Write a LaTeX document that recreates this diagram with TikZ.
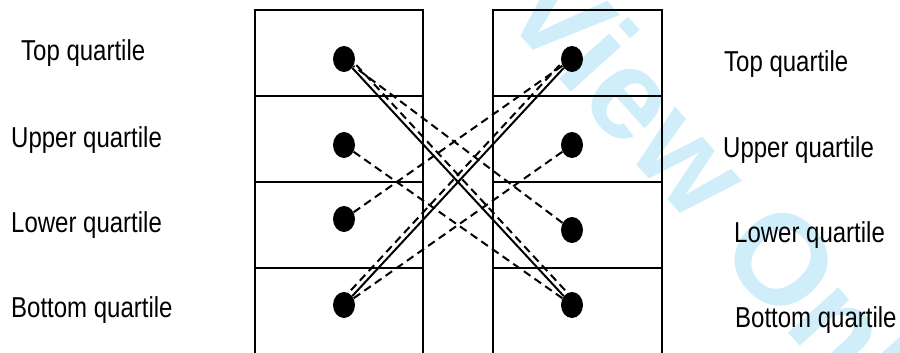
\documentclass[tikz,border=0pt]{standalone}
\usepackage{fontspec}
\setmainfont{Liberation Sans}
\usetikzlibrary{shapes.geometric,calc}
\definecolor{wm}{RGB}{208,237,250}
\begin{document}
\begin{tikzpicture}[x=1pt,y=-1pt,
  frame/.style={line width=1.4pt},
  dot/.style={ellipse,fill=black,draw=none,minimum width=22pt,minimum height=26pt,inner sep=0pt},
  conn/.style={line width=2pt},
  dconn/.style={line width=2pt,dash pattern=on 8pt off 5pt},
  lbl/.style={anchor=base west,inner sep=0pt,font=\fontsize{24}{28}\selectfont}]
\useasboundingbox (0,0) rectangle (900,353);
% watermark
\node[rotate=-48,anchor=base west,inner sep=0pt,text=wm,font=\fontsize{128}{132}\selectfont\bfseries] (wmk) at (498,11) {View Online};
% frames
\draw[frame] (255,354) -- (255,10) -- (423,10) -- (423,354);
\draw[frame] (493,354) -- (493,10) -- (662,10) -- (662,354);
\foreach \yy in {96,182,268}{
  \draw[frame] (255,\yy) -- (423,\yy);
  \draw[frame] (493,\yy) -- (662,\yy);
}
% dots
\node[dot] (LT) at (344,59) {};
\node[dot] (LU) at (344,145) {};
\node[dot] (LL) at (344,219) {};
\node[dot] (LB) at (344,305) {};
\node[dot] (RT) at (572,59) {};
\node[dot] (RU) at (572,145) {};
\node[dot] (RL) at (572,230) {};
\node[dot] (RB) at (572,305) {};
% connectors
\draw[conn] (LT) -- (RB);
\draw[dconn] ($(LT)+(3.5,-3.5)$) -- ($(RB)+(3.5,-3.5)$);
\draw[conn] (RT) -- (LB);
\draw[dconn] ($(RT)+(-3.5,-3.5)$) -- ($(LB)+(-3.5,-3.5)$);
\draw[dconn] (LU) -- (RB);
\draw[dconn] (RU) -- (LB);
\draw[dconn] (LL) -- (RT);
\draw[dconn] (RL) -- (LT);
% labels
\node[lbl] (l1) at (21,60) {\scalebox{1}[1.2]{Top quartile}};
\node[lbl] (l2) at (11,147) {\scalebox{1}[1.2]{Upper quartile}};
\node[lbl] (l3) at (11,232) {\scalebox{1}[1.2]{Lower quartile}};
\node[lbl] (l4) at (11,317) {\scalebox{1}[1.2]{Bottom quartile}};
\node[lbl] (r1) at (724,72) {\scalebox{1}[1.2]{Top quartile}};
\node[lbl] (r2) at (723,157) {\scalebox{1}[1.2]{Upper quartile}};
\node[lbl] (r3) at (734,242) {\scalebox{1}[1.2]{Lower quartile}};
\node[lbl] (r4) at (735,327) {\scalebox{1}[1.2]{Bottom quartile}};
\end{tikzpicture}
\end{document}
